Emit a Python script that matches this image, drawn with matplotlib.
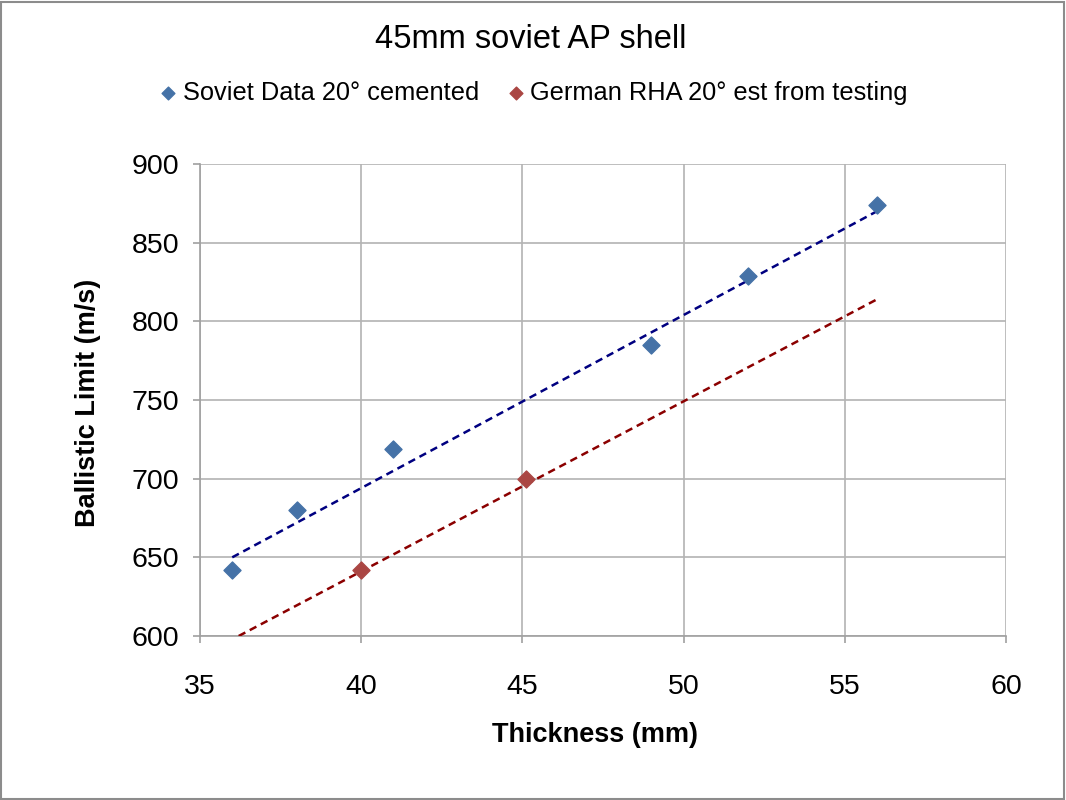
import numpy as np
import matplotlib
matplotlib.use("Agg")
import matplotlib.pyplot as plt
from matplotlib.patches import Rectangle

plt.rcParams['font.family'] = ['Liberation Sans', 'DejaVu Sans']

soviet_x = [36, 38, 41, 49, 52, 56]
soviet_y = [642, 680, 719, 785, 829, 874]
german_x = [40, 45.1]
german_y = [642, 700]
# linear trendlines (start/end)
soviet_trend_x = [36, 56]
soviet_trend_y = [650, 870]
german_trend_x = [36.2, 56]
german_trend_y = [600, 814]
xticks = [35, 40, 45, 50, 55, 60]
yticks = [600, 650, 700, 750, 800, 850, 900]

fig = plt.figure(figsize=(10.66, 8), dpi=100)
ax = fig.add_axes([200/1066, 1-636/800, (1006-200)/1066, (636-164)/800])

blue = '#4572A7'
red = '#AA4643'

ax.scatter(soviet_x, soviet_y, marker='D', s=75, color=blue, zorder=4, label='Soviet Data 20° cemented')
ax.scatter(german_x, german_y, marker='D', s=75, color=red, zorder=4, label='German RHA 20° est from testing')

ax.plot(soviet_trend_x, soviet_trend_y, ls=(0, (3, 2)), color='#000080', lw=1.8, zorder=3)
ax.plot(german_trend_x, german_trend_y, ls=(0, (3, 2)), color='#8B0000', lw=1.8, zorder=3)

ax.set_xlim(35, 60)
ax.set_ylim(600, 900)
ax.set_xticks(xticks)
ax.set_yticks(yticks)
ax.grid(True, color='#b3b3b3', lw=1.2)
ax.set_axisbelow(True)
for s in ['top', 'right']:
    ax.spines[s].set_visible(False)
for s in ['left', 'bottom']:
    ax.spines[s].set_color('#a0a0a0')
    ax.spines[s].set_linewidth(1.2)
ax.tick_params(axis='both', labelsize=20.5, color='#a0a0a0', length=5, width=1.2)
ax.tick_params(axis='x', pad=22)
ax.tick_params(axis='y', pad=10)

ax.set_xlabel('Thickness (mm)', fontsize=19.5, fontweight='bold')
ax.set_ylabel('Ballistic Limit (m/s)', fontsize=19.5, fontweight='bold')
ax.xaxis.set_label_coords((595-200)/806, (636-735)/472)
ax.yaxis.set_label_coords((88-200)/806, (636-403)/472)
ax.xaxis.label.set_va('center')
ax.yaxis.label.set_va('center')

fig.text(531/1066, 1-40/800, '45mm soviet AP shell', ha='center', va='center', fontsize=23.5)

fig.legend(loc='center', bbox_to_anchor=(533/1066, 1-93/800), ncol=2, frameon=False,
           fontsize=18.3, handlelength=0.8, handletextpad=0.16, columnspacing=1.06,
           markerscale=0.75, borderpad=0, borderaxespad=0)

fig.patches.append(Rectangle((0.001, 0.001), 0.997, 0.997, transform=fig.transFigure,
                             fill=False, edgecolor='#8c8c8c', lw=1.5))

fig.savefig('out.png', dpi=100)
